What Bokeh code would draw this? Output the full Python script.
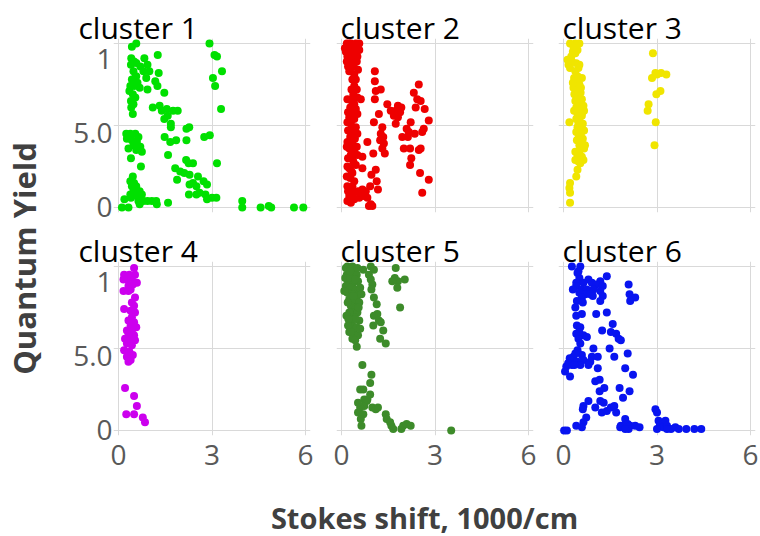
from math import pi

from bokeh.plotting import figure
from bokeh.layouts import row, column
from bokeh.models import FixedTicker, Range1d, LinearAxis, Grid, Label
from bokeh.embed import file_html
from bokeh.resources import INLINE

# ---- Stokes shift (1000/cm) and quantum yield for each cluster ----
c1_x = [0.43, 0.57, 0.41, 0.50, 0.40, 0.57, 0.70, 0.83, 0.93, 0.99,
        0.80, 0.89, 1.26, 1.29, 1.18, 1.25, 1.47, 0.93, 0.48, 0.57,
        0.43, 0.61, 0.50, 0.35, 0.68, 0.46, 0.54, 0.40, 0.48, 0.41,
        0.46, 0.53, 0.38, 1.10, 1.32, 1.39, 1.55, 1.75, 1.90, 1.58,
        1.47, 1.68, 1.68, 2.18, 2.27, 2.75, 2.93, 1.48, 1.66, 1.85,
        2.18, 1.59, 2.17, 2.25, 2.39, 1.82, 1.98, 2.11, 1.88, 2.28,
        2.55, 2.28, 2.39, 2.50, 2.73, 2.84, 2.50, 2.60, 2.79, 2.84,
        3.00, 3.14, 3.16, 2.26, 2.92, 3.08, 3.16, 3.32, 3.03, 3.10,
        3.29, 0.25, 0.38, 0.54, 0.64, 0.27, 0.43, 0.59, 0.48, 0.70,
        0.32, 0.57, 0.75, 0.40, 0.72, 0.46, 0.38, 0.50, 0.43, 0.57,
        0.48, 0.68, 0.38, 0.59, 0.75, 0.80, 0.93, 1.07, 1.21, 1.23,
        0.64, 0.68, 0.19, 0.11, 0.32, 1.59, 0.40, 3.97, 3.97, 4.56,
        4.82, 4.90, 5.63, 5.93]
c1_y = [0.98, 1.00, 0.91, 0.89, 0.87, 0.88, 0.86, 0.91, 0.87, 0.83,
        0.83, 0.79, 0.93, 0.82, 0.77, 0.74, 0.70, 0.72, 0.83, 0.80,
        0.78, 0.76, 0.74, 0.71, 0.73, 0.69, 0.67, 0.65, 0.63, 0.61,
        0.57, 0.79, 0.74, 0.61, 0.62, 0.59, 0.60, 0.59, 0.59, 0.56,
        0.54, 0.51, 0.49, 0.48, 0.49, 0.43, 0.44, 0.43, 0.40, 0.41,
        0.41, 0.32, 0.29, 0.27, 0.27, 0.24, 0.22, 0.21, 0.17, 0.20,
        0.19, 0.14, 0.15, 0.13, 0.16, 0.14, 0.08, 0.09, 0.08, 0.05,
        0.06, 0.06, 0.27, 0.08, 1.00, 0.93, 0.92, 0.83, 0.79, 0.74,
        0.60, 0.45, 0.45, 0.45, 0.43, 0.42, 0.41, 0.40, 0.38, 0.37,
        0.36, 0.35, 0.34, 0.30, 0.25, 0.19, 0.16, 0.15, 0.13, 0.13,
        0.10, 0.10, 0.08, 0.07, 0.08, 0.04, 0.04, 0.04, 0.04, 0.02,
        0.04, 0.02, 0.05, 0.00, 0.00, 0.03, 0.06, 0.04, 0.00, 0.00,
        0.01, 0.00, 0.00, 0.00]

c2_x = [0.17, 0.30, 0.46, 0.57, 0.19, 0.35, 0.51, 0.14, 0.28, 0.43,
        0.57, 0.19, 0.35, 0.51, 0.17, 0.32, 0.49, 0.21, 0.38, 0.53,
        0.25, 0.41, 0.35, 0.46, 0.41, 0.32, 0.49, 0.38, 0.51, 0.62,
        0.32, 0.41, 0.28, 0.46, 0.35, 0.51, 0.25, 0.41, 0.30, 0.46,
        0.21, 0.38, 0.51, 0.28, 0.43, 0.19, 0.35, 0.49, 0.25, 0.41,
        0.30, 0.51, 0.21, 0.38, 0.46, 0.25, 0.67, 0.35, 0.28, 0.41,
        0.19, 0.32, 0.53, 0.67, 0.25, 0.41, 0.57, 0.30, 0.72, 0.83,
        0.94, 0.88, 0.99, 0.62, 0.25, 0.41, 0.11, 0.46, 0.28, 0.41,
        0.30, 0.19, 0.35, 0.21, 0.19, 0.32, 0.17, 0.35, 0.19, 0.32,
        0.17, 0.35, 0.21, 0.19, 0.35, 1.07, 1.07, 1.26, 1.10, 1.07,
        1.20, 1.04, 1.47, 1.31, 1.26, 1.34, 1.24, 1.36, 1.31, 1.39,
        0.83, 1.02, 0.67, 0.96, 1.10, 1.13, 1.17, 0.92, 0.78, 1.58,
        1.74, 1.81, 1.92, 1.68, 1.81, 1.88, 1.74, 1.95, 2.09, 2.22,
        2.48, 2.32, 2.43, 2.54, 2.38, 2.67, 2.80, 2.64, 2.59, 2.16,
        2.35, 2.00, 2.20, 2.48, 2.54, 2.24, 2.20, 2.52, 2.80, 2.59,
        2.13]
c2_y = [1.00, 1.00, 1.00, 1.00, 0.98, 0.98, 0.98, 0.95, 0.95, 0.95,
        0.96, 0.92, 0.92, 0.92, 0.89, 0.88, 0.89, 0.86, 0.86, 0.84,
        0.83, 0.81, 0.78, 0.78, 0.74, 0.72, 0.72, 0.69, 0.67, 0.66,
        0.66, 0.63, 0.61, 0.60, 0.57, 0.57, 0.55, 0.54, 0.51, 0.49,
        0.47, 0.46, 0.45, 0.43, 0.42, 0.40, 0.39, 0.37, 0.36, 0.34,
        0.32, 0.32, 0.30, 0.28, 0.26, 0.24, 0.24, 0.21, 0.18, 0.16,
        0.13, 0.10, 0.10, 0.11, 0.07, 0.05, 0.06, 0.03, 0.07, 0.06,
        0.02, 0.01, 0.01, 0.09, 1.00, 0.99, 0.97, 0.93, 0.90, 0.88,
        0.85, 0.66, 0.63, 0.58, 0.52, 0.48, 0.37, 0.31, 0.25, 0.22,
        0.19, 0.13, 0.10, 0.04, 0.07, 0.83, 0.77, 0.72, 0.71, 0.66,
        0.57, 0.52, 0.63, 0.49, 0.45, 0.43, 0.41, 0.39, 0.36, 0.33,
        0.40, 0.33, 0.31, 0.20, 0.23, 0.16, 0.11, 0.13, 0.10, 0.59,
        0.59, 0.62, 0.61, 0.56, 0.55, 0.58, 0.51, 0.43, 0.48, 0.52,
        0.75, 0.70, 0.66, 0.65, 0.61, 0.60, 0.53, 0.48, 0.46, 0.46,
        0.45, 0.36, 0.36, 0.35, 0.36, 0.30, 0.26, 0.21, 0.17, 0.09,
        0.43]

c3_x = [0.21, 0.38, 0.51, 0.32, 0.30, 0.38, 0.13, 0.27, 0.16, 0.41,
        0.51, 0.21, 0.38, 0.45, 0.34, 0.59, 0.41, 0.51, 0.32, 0.45,
        0.56, 0.35, 0.49, 0.59, 0.38, 0.51, 0.64, 0.41, 0.54, 0.34,
        0.66, 0.45, 0.59, 0.41, 0.51, 0.19, 0.62, 0.45, 0.54, 0.66,
        0.41, 0.56, 0.49, 0.62, 0.43, 0.69, 0.51, 0.38, 0.51, 0.45,
        0.59, 0.64, 0.38, 0.54, 0.45, 0.41, 0.21, 0.19, 0.21, 0.21,
        2.87, 2.95, 2.84, 3.13, 3.30, 3.00, 3.11, 2.98, 2.73, 2.70,
        2.96, 2.92, 0.45, 0.25, 0.48, 0.30, 0.55, 0.44, 0.60, 0.48,
        0.58, 0.66, 0.48]
c3_y = [1.00, 1.00, 1.00, 0.98, 0.95, 0.94, 0.90, 0.89, 0.87, 0.88,
        0.87, 0.85, 0.83, 0.80, 0.79, 0.79, 0.77, 0.75, 0.73, 0.72,
        0.73, 0.69, 0.68, 0.66, 0.65, 0.63, 0.62, 0.61, 0.60, 0.59,
        0.59, 0.57, 0.56, 0.54, 0.53, 0.52, 0.51, 0.49, 0.48, 0.47,
        0.46, 0.45, 0.43, 0.42, 0.41, 0.38, 0.38, 0.34, 0.34, 0.32,
        0.31, 0.29, 0.29, 0.27, 0.23, 0.19, 0.15, 0.12, 0.09, 0.03,
        0.94, 0.82, 0.79, 0.82, 0.81, 0.81, 0.71, 0.69, 0.63, 0.59,
        0.52, 0.38, 0.96, 0.92, 0.85, 0.76, 0.70, 0.66, 0.58, 0.51,
        0.40, 0.36, 0.28]

c4_x = [0.50, 0.18, 0.35, 0.53, 0.16, 0.27, 0.43, 0.59, 0.32, 0.46,
        0.39, 0.16, 0.32, 0.53, 0.43, 0.50, 0.18, 0.39, 0.53, 0.43,
        0.32, 0.50, 0.39, 0.57, 0.27, 0.43, 0.32, 0.50, 0.21, 0.39,
        0.53, 0.27, 0.43, 0.18, 0.35, 0.46, 0.27, 0.39, 0.32, 0.21,
        0.50, 0.59, 0.50, 0.25, 0.78, 0.85]
c4_y = [0.99, 0.95, 0.95, 0.95, 0.92, 0.92, 0.93, 0.90, 0.88, 0.89,
        0.86, 0.85, 0.85, 0.81, 0.78, 0.76, 0.74, 0.73, 0.72, 0.69,
        0.67, 0.66, 0.64, 0.63, 0.61, 0.60, 0.58, 0.58, 0.56, 0.55,
        0.55, 0.53, 0.52, 0.49, 0.48, 0.46, 0.45, 0.43, 0.42, 0.26,
        0.21, 0.15, 0.10, 0.10, 0.08, 0.05]

c5_x = [0.19, 0.35, 0.28, 0.41, 0.17, 0.32, 0.49, 0.21, 0.38, 0.53,
        0.14, 0.30, 0.46, 0.60, 0.19, 0.35, 0.51, 0.64, 0.25, 0.41,
        0.57, 0.30, 0.46, 0.35, 0.51, 0.41, 0.28, 0.57, 0.35, 0.49,
        0.25, 0.41, 0.53, 0.35, 0.49, 0.14, 0.51, 0.09, 0.25, 0.21,
        0.60, 0.70, 0.94, 1.04, 0.88, 0.94, 0.99, 0.96, 1.04, 1.13,
        1.15, 1.04, 1.20, 1.26, 1.02, 1.34, 1.24, 1.42, 1.74, 1.71,
        1.81, 2.03, 1.79, 1.88, 1.63, 0.67, 0.96, 0.92, 0.70, 0.60,
        0.92, 0.73, 0.81, 0.73, 0.60, 0.99, 1.10, 1.17, 0.53, 0.70,
        0.62, 0.64, 1.42, 1.45, 1.56, 1.60, 1.66, 1.92, 1.98, 2.09,
        2.22, 3.52, 0.53, 0.83, 0.12, 0.27, 0.44, 0.20, 0.38, 0.16,
        0.45, 0.22, 0.30, 0.44, 0.28, 0.55]
c5_y = [1.00, 1.00, 0.98, 0.97, 0.95, 0.94, 0.95, 0.91, 0.90, 0.91,
        0.88, 0.87, 0.86, 0.87, 0.84, 0.83, 0.82, 0.83, 0.80, 0.79,
        0.78, 0.76, 0.75, 0.72, 0.72, 0.69, 0.66, 0.67, 0.64, 0.63,
        0.60, 0.59, 0.58, 0.56, 0.51, 0.99, 0.99, 0.85, 0.72, 0.64,
        0.62, 0.98, 1.00, 0.98, 0.95, 0.92, 0.89, 0.86, 0.81, 0.77,
        0.71, 0.70, 0.67, 0.66, 0.64, 0.61, 0.56, 0.53, 0.99, 0.93,
        0.91, 0.92, 0.87, 0.75, 0.91, 0.40, 0.34, 0.29, 0.25, 0.25,
        0.22, 0.19, 0.18, 0.15, 0.14, 0.14, 0.13, 0.14, 0.11, 0.10,
        0.07, 0.03, 0.10, 0.07, 0.05, 0.03, 0.01, 0.01, 0.03, 0.04,
        0.03, 0.00, 0.17, 0.19, 0.93, 0.93, 0.92, 0.78, 0.82, 0.70,
        0.68, 0.68, 0.60, 0.55, 0.97, 0.75]

c6_x = [0.27, 0.54, 0.45, 0.51, 1.39, 0.80, 1.18, 0.41, 0.64, 0.91,
        1.05, 1.26, 0.41, 0.59, 0.75, 0.96, 1.18, 0.51, 0.70, 0.86,
        1.26, 0.59, 0.43, 0.62, 1.18, 0.94, 2.09, 2.12, 2.30, 2.14,
        0.41, 0.59, 1.05, 1.39, 1.58, 0.43, 0.54, 1.24, 1.52, 1.69,
        0.41, 0.64, 0.48, 1.77, 1.84, 0.75, 0.54, 0.45, 0.96, 1.48,
        2.06, 0.32, 0.59, 0.91, 1.10, 1.63, 0.27, 0.45, 0.64, 0.86,
        0.09, 0.27, 0.54, 0.80, 0.05, 0.21, 1.10, 1.98, 2.23, 1.02,
        1.16, 1.16, 1.31, 1.80, 2.12, 1.91, 0.80, 0.64, 0.62, 1.02,
        1.18, 1.29, 1.23, 1.39, 1.52, 1.63, 1.69, 0.73, 0.64, 0.41,
        0.59, 0.02, 0.11, 1.98, 1.84, 1.93, 2.06, 2.14, 1.82, 2.09,
        2.30, 2.44, 1.98, 2.95, 3.00, 3.05, 3.27, 3.09, 3.20, 3.32,
        3.45, 3.59, 3.32, 3.70, 3.94, 4.20, 4.42, 3.00, 0.20, 0.38,
        0.15, 0.35, 0.50, 0.38, 0.30, 0.48]
c6_y = [1.00, 1.00, 0.96, 0.93, 0.94, 0.92, 0.91, 0.90, 0.90, 0.90,
        0.89, 0.88, 0.88, 0.86, 0.86, 0.86, 0.85, 0.84, 0.83, 0.83,
        0.82, 0.81, 0.79, 0.78, 0.79, 0.82, 0.89, 0.83, 0.81, 0.79,
        0.70, 0.71, 0.71, 0.72, 0.65, 0.64, 0.63, 0.61, 0.60, 0.59,
        0.59, 0.58, 0.56, 0.56, 0.55, 0.57, 0.53, 0.49, 0.50, 0.50,
        0.47, 0.45, 0.46, 0.45, 0.45, 0.45, 0.43, 0.42, 0.43, 0.42,
        0.39, 0.40, 0.40, 0.40, 0.36, 0.33, 0.38, 0.38, 0.34, 0.30,
        0.31, 0.24, 0.26, 0.26, 0.24, 0.20, 0.18, 0.15, 0.13, 0.14,
        0.18, 0.17, 0.11, 0.12, 0.14, 0.15, 0.11, 0.08, 0.05, 0.03,
        0.02, 0.00, 0.00, 0.07, 0.03, 0.03, 0.04, 0.03, 0.02, 0.01,
        0.03, 0.02, 0.01, 0.13, 0.11, 0.06, 0.06, 0.03, 0.02, 0.03,
        0.01, 0.02, 0.01, 0.01, 0.01, 0.01, 0.01, 0.01, 0.44, 0.47,
        0.41, 0.40, 0.60, 0.75, 0.86, 0.97]

cluster_names = ["cluster 1", "cluster 2", "cluster 3",
                 "cluster 4", "cluster 5", "cluster 6"]
cluster_colors = ["#00E000", "#EE0000", "#F0E500",
                  "#CC00EE", "#3D8B2A", "#0814F0"]

x_ticks = [0, 3, 6]
x_tick_text = ["0", "3", "6"]
y_ticks = [0, 0.5, 1]
y_tick_text = ["0", "5.0", "1"]

x_title = "Stokes shift, 1000/cm"
y_title = "Quantum Yield"

# ---- styling ----
FONT = "Open Sans"
GRID_COLOR = "#D9D9D9"
TICK_COLOR = "#595959"
AXIS_TITLE_COLOR = "#404040"


def make_panel(xs, ys, color, name, width, height, left, right, top, bottom,
               show_x, show_y, title_dx):
    assert len(xs) == len(ys)
    p = figure(width=width, height=height, title=name,
               x_range=Range1d(-0.16, 6.16), y_range=Range1d(-0.03, 1.03),
               output_backend="svg", toolbar_location=None,
               x_axis_location=None, y_axis_location=None,
               min_border_left=left, min_border_right=right,
               min_border_top=top, min_border_bottom=bottom,
               outline_line_color=None)
    p.grid.visible = False
    p.add_layout(Grid(dimension=0, ticker=FixedTicker(ticks=x_ticks),
                      grid_line_color=GRID_COLOR, grid_line_width=1))
    p.add_layout(Grid(dimension=1, ticker=FixedTicker(ticks=y_ticks),
                      grid_line_color=GRID_COLOR, grid_line_width=1))

    p.scatter(x=xs, y=ys, size=8, fill_color=color, line_color=None)

    axis_style = dict(axis_line_color=None, major_tick_line_color=None,
                      minor_tick_line_color=None, major_tick_in=0,
                      major_tick_out=0, major_label_text_font=FONT,
                      major_label_text_font_size="28px",
                      major_label_text_color=TICK_COLOR)
    if show_x:
        ax = LinearAxis(ticker=FixedTicker(ticks=x_ticks),
                        major_label_overrides=dict(zip(x_ticks, x_tick_text)),
                        major_label_standoff=9, **axis_style)
        p.add_layout(ax, "below")
    if show_y:
        # tick labels sit a little below their gridlines
        p.extra_y_ranges = {"tick_labels": Range1d(-0.037, 1.135)}
        ay = LinearAxis(y_range_name="tick_labels",
                        ticker=FixedTicker(ticks=y_ticks),
                        major_label_overrides=dict(zip(y_ticks, y_tick_text)),
                        major_label_standoff=1, **axis_style)
        p.add_layout(ay, "left")

    t = p.title
    t.align = "left"
    t.offset = title_dx
    t.vertical_align = "middle"
    t.standoff = -20
    t.text_font = FONT
    t.text_font_size = "30px"
    t.text_font_style = "normal"
    t.text_color = "black"
    return p


col_specs = [  # width, left border, right border, title shift
    (278, 68, 13, -35),
    (222, 13, 12, 4),
    (215, 13, 5, 4),
]
row_specs = [  # height, top border, bottom border
    (225, 38, 13),
    (255, 36, 45),
]
series = [(c1_x, c1_y), (c2_x, c2_y), (c3_x, c3_y),
          (c4_x, c4_y), (c5_x, c5_y), (c6_x, c6_y)]

panels = []
for i, (xs, ys) in enumerate(series):
    r, c = divmod(i, 3)
    w, bl, br, dx = col_specs[c]
    h, bt, bb = row_specs[r]
    panels.append(make_panel(xs, ys, cluster_colors[i], cluster_names[i],
                             w, h, bl, br, bt, bb,
                             show_x=(r == 1), show_y=(c == 0), title_dx=dx))


def label_canvas(width, height):
    f = figure(width=width, height=height, output_backend="svg",
               toolbar_location=None, x_axis_location=None,
               y_axis_location=None, min_border=0, outline_line_color=None)
    f.grid.visible = False
    return f


ylab = label_canvas(45, 480)
ylab.add_layout(Label(x=23, y=222, x_units="screen", y_units="screen",
                      text=y_title, angle=pi / 2, text_align="center",
                      text_baseline="middle", text_font=FONT,
                      text_font_style="bold", text_font_size="31px",
                      text_color=AXIS_TITLE_COLOR))

xlab = label_canvas(760, 56)
xlab.add_layout(Label(x=424, y=19, x_units="screen", y_units="screen",
                      text=x_title, text_align="center",
                      text_baseline="middle", text_font=FONT,
                      text_font_style="bold", text_font_size="29px",
                      text_color=AXIS_TITLE_COLOR))

layout = column(
    row(ylab, column(row(*panels[:3]), row(*panels[3:]))),
    xlab,
)

open("out.html", "w").write(file_html(layout, INLINE))
